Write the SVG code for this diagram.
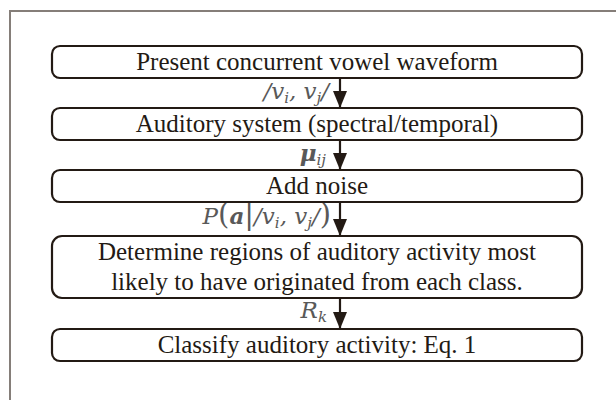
<svg xmlns="http://www.w3.org/2000/svg" width="616" height="400" viewBox="0 0 616 400">
<style>
.box{fill:#fff;stroke:#231a14;stroke-width:2.2}
.t{font-family:"Liberation Serif","Times New Roman",serif;font-size:25px;fill:#231a14;text-anchor:middle}
.m{font-family:"DejaVu Serif","Liberation Serif",serif;font-style:italic;font-size:23px;fill:#595959;text-anchor:end}
.s{font-size:15px}
.p{font-size:29px;font-style:normal}
.b{font-weight:bold}
.ln{stroke:#231a14;stroke-width:2.2;fill:none}
</style>
<defs>
<marker id="ah" markerWidth="17" markerHeight="14" refX="17" refY="7" orient="auto" markerUnits="userSpaceOnUse" viewBox="0 0 17 14">
<path d="M0,0 L17,7 L0,14 Z" fill="#231a14"/>
</marker>
</defs>
<rect width="616" height="400" fill="#fff"/>
<path d="M10,400 V11 H616" fill="none" stroke="#857e79" stroke-width="2"/>
<g id="connectors">
<line class="ln" x1="340" y1="78" x2="340" y2="108" marker-end="url(#ah)"/>
<line class="ln" x1="340" y1="140" x2="340" y2="170" marker-end="url(#ah)"/>
<line class="ln" x1="340" y1="202" x2="340" y2="236" marker-end="url(#ah)"/>
<line class="ln" x1="340" y1="298" x2="340" y2="329" marker-end="url(#ah)"/>
<text class="m" x="329" y="99">/v<tspan class="s" dy="4">i</tspan><tspan dy="-4">, v</tspan><tspan class="s" dy="4">j</tspan><tspan dy="-4">/</tspan></text>
<text class="m" x="326" y="161"><tspan class="b">μ</tspan><tspan class="s" dy="4">ij</tspan></text>
<text class="m" x="331" y="224">P<tspan class="p">(</tspan><tspan class="b">a</tspan><tspan class="p">|</tspan>/v<tspan class="s" dy="4">i</tspan><tspan dy="-4">, v</tspan><tspan class="s" dy="4">j</tspan><tspan dy="-4">/</tspan><tspan class="p">)</tspan></text>
<text class="m" x="327" y="318">R<tspan class="s" dy="4">k</tspan></text>
</g>
<g id="n1"><rect class="box" x="52" y="46" width="530" height="32" rx="8"/><text class="t" x="317" y="70">Present concurrent vowel waveform</text></g>
<g id="n2"><rect class="box" x="52" y="108" width="530" height="32" rx="8"/><text class="t" x="317" y="132">Auditory system (spectral/temporal)</text></g>
<g id="n3"><rect class="box" x="52" y="170" width="530" height="32" rx="8"/><text class="t" x="317" y="194">Add noise</text></g>
<g id="n4"><rect class="box" x="52" y="236" width="530" height="62" rx="10"/><text class="t" x="317" y="260">Determine regions of auditory activity most</text><text class="t" x="317" y="290">likely to have originated from each class.</text></g>
<g id="n5"><rect class="box" x="52" y="329" width="530" height="32" rx="8"/><text class="t" x="317" y="353">Classify auditory activity: Eq. 1</text></g>
</svg>
